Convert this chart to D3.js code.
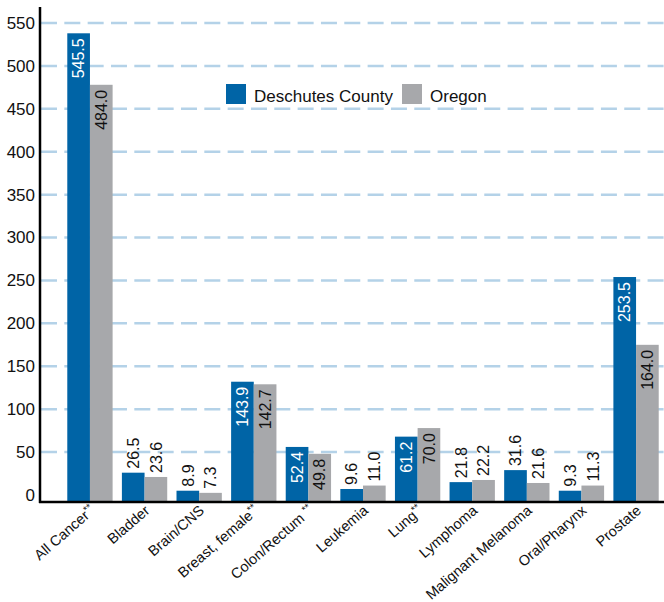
<!DOCTYPE html>
<html>
<head>
<meta charset="utf-8">
<script src="https://cdn.jsdelivr.net/npm/d3@7"></script>
<style>
  body { margin: 0; background: #fff; }
  svg { display: block; font-family: "Liberation Sans", Arial, Helvetica, sans-serif; }
</style>
</head>
<body>
<svg width="664" height="602"></svg>
<script>
// categories and values (bar heights, printed labels as shown)
const categories = ["All Cancer", "Bladder", "Brain/CNS", "Breast, female", "Colon/Rectum ", "Leukemia",
    "Lung", "Lymphoma", "Malignant Melanoma", "Oral/Pharynx", "Prostate"];
const starred = [true, false, false, true, true, false, true, false, false, false, false];
const deschutes = [538, 26, 5, 132, 56, 7, 68, 15, 29, 5, 254];
const oregon = [478, 21, 2.5, 129, 48, 11, 78, 17.5, 14, 11, 175];
const deschutesLabels = ["545.5", "26.5", "8.9", "143.9", "52.4", "9.6", "61.2", "21.8", "31.6", "9.3", "253.5"];
const oregonLabels = ["484.0", "23.6", "7.3", "142.7", "49.8", "11.0", "70.0", "22.2", "21.6", "11.3", "164.0"];
const yTicks = [0, 50, 100, 150, 200, 250, 300, 350, 400, 450, 500, 550];
const seriesNames = ["Deschutes County", "Oregon"];

const svg = d3.select("svg");
const width = +svg.attr("width");

const blue = "#0064a6";
const gray = "#a7a8ab";
const color = d3.scaleOrdinal().domain(seriesNames).range([blue, gray]);

const axisX = 40;
const baseY = 501;

const x = d3.scaleBand().domain(categories).range([58, 668]).padding(0.17);
const x1 = d3.scaleBand().domain(seriesNames).range([0, x.bandwidth()]);
const y = d3.scaleLinear().domain([0, 550]).range([495, 23]);

// gridlines
svg.append("g")
    .selectAll("line")
    .data(yTicks.filter(d => d > 0))
    .enter().append("line")
    .attr("x1", axisX + 1)
    .attr("x2", width)
    .attr("y1", d => y(d))
    .attr("y2", d => y(d))
    .attr("stroke", "#b4d2e8")
    .attr("stroke-width", 2.5)
    .attr("stroke-dasharray", "16,7.33");

// y tick labels
svg.append("g")
    .selectAll("text")
    .data(yTicks)
    .enter().append("text")
    .attr("x", 35)
    .attr("y", d => y(d))
    .attr("dy", "0.35em")
    .attr("text-anchor", "end")
    .attr("font-size", 17)
    .attr("fill", "#111")
    .text(d => d);

// bars
const rows = categories.map((c, i) => [
    { cat: c, series: seriesNames[0], v: deschutes[i], label: deschutesLabels[i] },
    { cat: c, series: seriesNames[1], v: oregon[i], label: oregonLabels[i] }
]);

const groups = svg.append("g")
    .selectAll("g")
    .data(rows)
    .enter().append("g")
    .attr("transform", (d, i) => `translate(${x(categories[i])},0)`);

groups.selectAll("rect")
    .data(d => d)
    .enter().append("rect")
    .attr("x", d => x1(d.series))
    .attr("y", d => y(d.v))
    .attr("width", x1.bandwidth())
    .attr("height", d => baseY - y(d.v))
    .attr("fill", d => color(d.series));

// value labels, inside the bar when it is tall enough
const fits = d => baseY - y(d.v) > 38;
groups.selectAll("text")
    .data(d => d)
    .enter().append("text")
    .attr("transform", d => {
        const ty = fits(d) ? y(d.v) + 5 : y(d.v) - 4;
        return `translate(${x1(d.series) + x1.bandwidth() / 2},${ty}) rotate(-90)`;
    })
    .attr("dy", "0.36em")
    .attr("text-anchor", d => fits(d) ? "end" : "start")
    .attr("font-size", 16)
    .attr("fill", d => (fits(d) && d.series === seriesNames[0]) ? "#fff" : "#111")
    .text(d => d.label);

// axes lines
svg.append("line")
    .attr("x1", axisX).attr("x2", axisX)
    .attr("y1", 7).attr("y2", baseY + 2)
    .attr("stroke", "#000").attr("stroke-width", 2.5);
svg.append("line")
    .attr("x1", axisX - 1).attr("x2", width)
    .attr("y1", baseY + 1).attr("y2", baseY + 1)
    .attr("stroke", "#000").attr("stroke-width", 2.5);

// category labels
const catLabels = svg.append("g")
    .selectAll("text")
    .data(categories)
    .enter().append("text")
    .attr("transform", d => `translate(${x(d) + x.bandwidth() / 2 + 6},${baseY + 11}) rotate(-41)`)
    .attr("text-anchor", "end")
    .attr("font-size", 14.5)
    .attr("fill", "#111");

catLabels.append("tspan").text(d => d);
catLabels.filter((d, i) => starred[i])
    .append("tspan")
    .attr("font-size", 10)
    .attr("dy", -5)
    .text("**");

// legend
const legend = svg.append("g")
    .selectAll("g")
    .data(seriesNames)
    .enter().append("g")
    .attr("transform", (d, i) => `translate(${i === 0 ? 226 : 402},84)`);

legend.append("rect")
    .attr("width", 20)
    .attr("height", 20)
    .attr("fill", d => color(d));

legend.append("text")
    .attr("x", 28)
    .attr("y", 17.5)
    .attr("font-size", 17)
    .attr("fill", "#111")
    .text(d => d);
</script>
</body>
</html>
